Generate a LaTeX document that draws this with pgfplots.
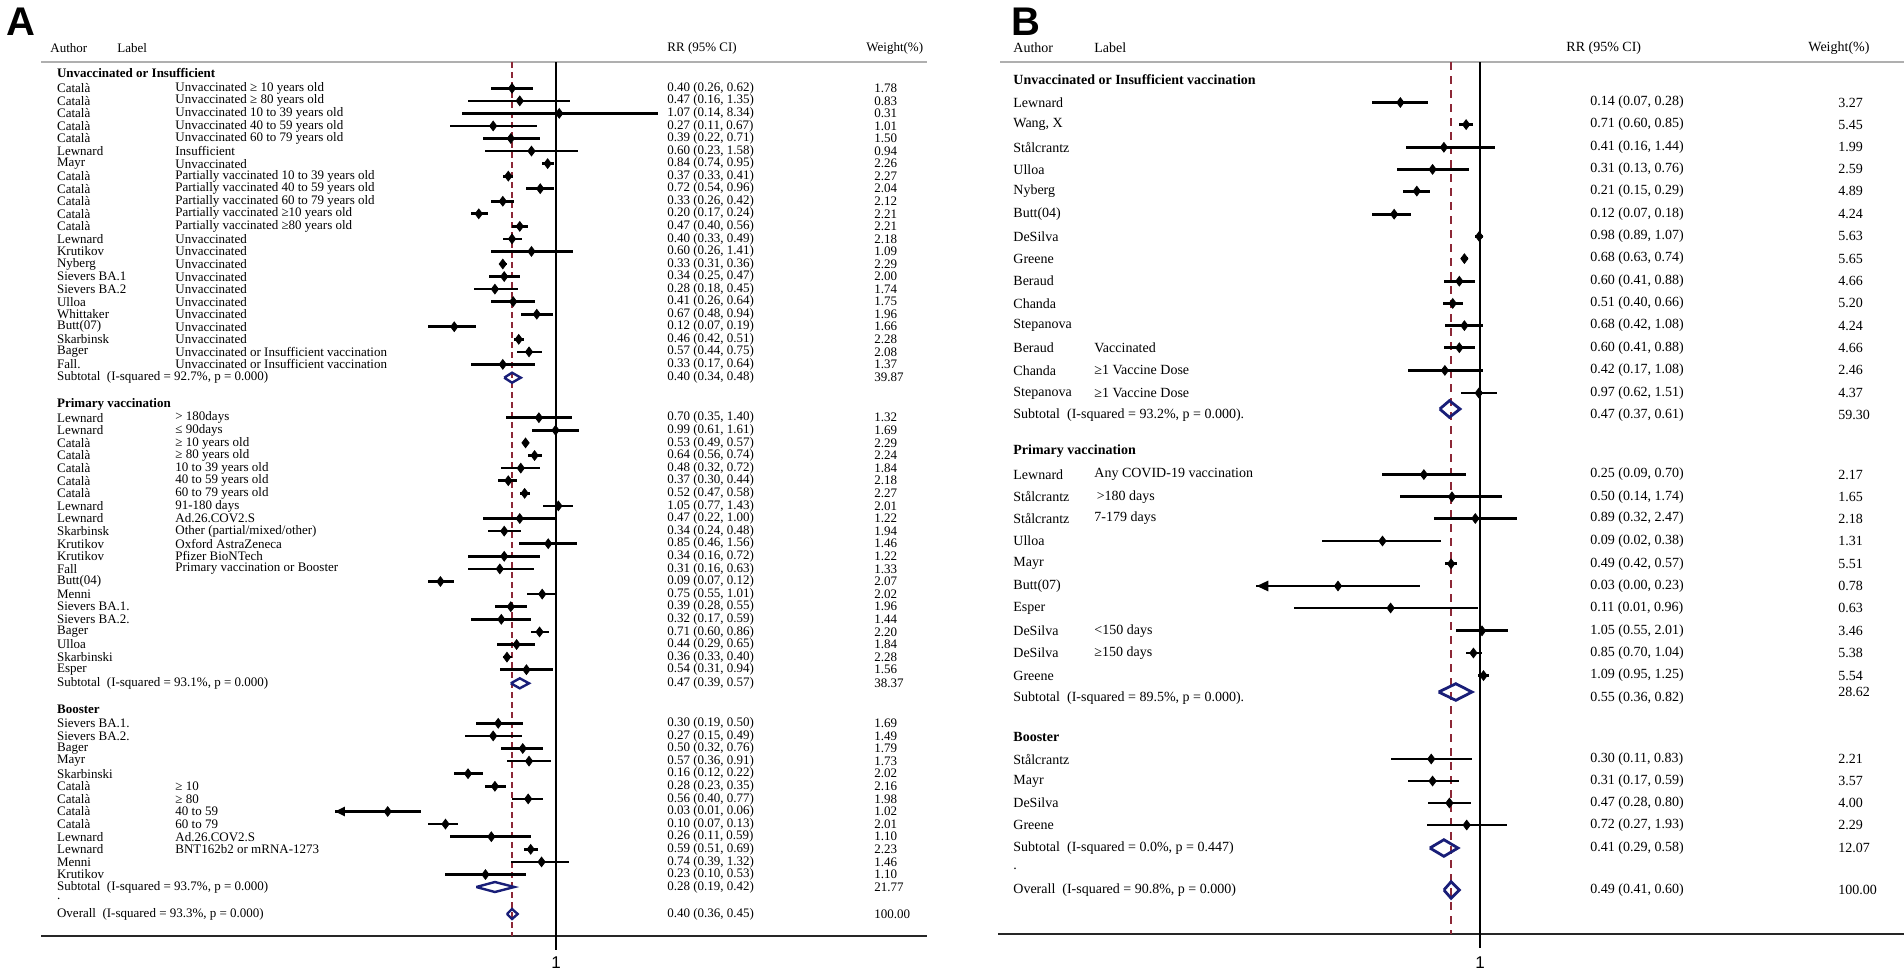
\documentclass[border=0pt]{standalone}
\usepackage{pgfplots}
\pgfplotsset{compat=1.18}
\usepackage{pgfplotstable}
\usepackage{fontspec}
\setmainfont{Liberation Serif}
\newfontfamily\sansf{Liberation Sans}
\usetikzlibrary{arrows.meta}
\definecolor{navyd}{RGB}{25,30,120}
\definecolor{maroond}{RGB}{140,40,55}
\definecolor{rulegray}{RGB}{175,175,175}
\newcommand\fa{\fontsize{6.5}{7.5}\selectfont}
\newcommand\fna{\fontsize{6.5}{7.5}\selectfont}
\newcommand\fb{\fontsize{7}{8}\selectfont}
\tikzset{tA/.style={anchor=west,inner sep=0pt,font=\fa},
 tAn/.style={anchor=west,inner sep=0pt,font=\fna},
 tB/.style={anchor=west,inner sep=0pt,font=\fb}}
\newcommand\rA[5]{\node[tA] at (axis cs:56.7,#1){#2};\node[tA] at (axis cs:175,#1){#3};\node[tAn] at (axis cs:667,#1){#4};\node[tAn] at (axis cs:874,#1){#5};}
\newcommand\rB[5]{\node[tB] at (axis cs:1013,#1){#2};\node[tB] at (axis cs:1094,#1){#3};\node[tB] at (axis cs:1590,#1){#4};\node[tB] at (axis cs:1838,#1){#5};}

\pgfplotstableread{
y rr lo hi
88.30 0.40 0.26 0.62
100.85 0.47 0.16 1.35
113.40 1.07 0.14 8.34
125.95 0.27 0.11 0.67
138.50 0.39 0.22 0.71
151.05 0.60 0.23 1.58
163.60 0.84 0.74 0.95
176.15 0.37 0.33 0.41
188.70 0.72 0.54 0.96
201.25 0.33 0.26 0.42
213.80 0.20 0.17 0.24
226.35 0.47 0.40 0.56
238.90 0.40 0.33 0.49
251.45 0.60 0.26 1.41
264.00 0.33 0.31 0.36
276.55 0.34 0.25 0.47
289.10 0.28 0.18 0.45
301.65 0.41 0.26 0.64
314.20 0.67 0.48 0.94
326.75 0.12 0.07 0.19
339.30 0.46 0.42 0.51
351.85 0.57 0.44 0.75
364.40 0.33 0.17 0.64
417.7 0.70 0.35 1.40
430.3 0.99 0.61 1.61
442.9 0.53 0.49 0.57
455.5 0.64 0.56 0.74
468.1 0.48 0.32 0.72
480.7 0.37 0.30 0.44
493.3 0.52 0.47 0.58
505.9 1.05 0.77 1.43
518.5 0.47 0.22 1.00
531.1 0.34 0.24 0.48
543.7 0.85 0.46 1.56
556.3 0.34 0.16 0.72
568.9 0.31 0.16 0.63
581.5 0.09 0.07 0.12
594.1 0.75 0.55 1.01
606.7 0.39 0.28 0.55
619.3 0.32 0.17 0.59
631.9 0.71 0.60 0.86
644.5 0.44 0.29 0.65
657.1 0.36 0.33 0.40
669.7 0.54 0.31 0.94
723.3 0.30 0.19 0.50
735.9 0.27 0.15 0.49
748.5 0.50 0.32 0.76
761.1 0.57 0.36 0.91
773.7 0.16 0.12 0.22
786.3 0.28 0.23 0.35
798.9 0.56 0.40 0.77
811.5 0.03 0.01 0.06
824.1 0.10 0.07 0.13
836.7 0.26 0.11 0.59
849.3 0.59 0.51 0.69
861.9 0.74 0.39 1.32
874.5 0.23 0.10 0.53
}\tabA

\pgfplotstableread{
y rr lo hi
102.5 0.14 0.07 0.28
124.6 0.71 0.60 0.85
147.3 0.41 0.16 1.44
169.4 0.31 0.13 0.76
191.1 0.21 0.15 0.29
214.2 0.12 0.07 0.18
236.4 0.98 0.89 1.07
258.6 0.68 0.63 0.74
281.2 0.60 0.41 0.88
303.4 0.51 0.40 0.66
325.6 0.68 0.42 1.08
347.7 0.60 0.41 0.88
370.4 0.42 0.17 1.08
393.0 0.97 0.62 1.51
474.6 0.25 0.09 0.70
496.8 0.50 0.14 1.74
518.5 0.89 0.32 2.47
541.0 0.09 0.02 0.38
563.8 0.49 0.42 0.57
586.0 0.03 0.004 0.23
608.0 0.11 0.01 0.96
630.8 1.05 0.55 2.01
653.0 0.85 0.70 1.04
675.6 1.09 0.95 1.25
759.0 0.30 0.11 0.83
781.0 0.31 0.17 0.59
803.0 0.47 0.28 0.80
825.0 0.72 0.27 1.93
}\tabB

\begin{document}
\begin{tikzpicture}
\path[use as bounding box] (0,0) rectangle (952pt,487.5pt);
% ---------- canvas with texts and rules
\begin{axis}[at={(0pt,0pt)},anchor=south west,width=952pt,height=487.5pt,scale only axis,
 xmin=0,xmax=1904,ymin=0,ymax=975,y dir=reverse,hide axis,clip=false]
\node[font=\sansf\bfseries\fontsize{20}{20}\selectfont] at (axis cs:21,22) {A};
\node[font=\sansf\bfseries\fontsize{20}{20}\selectfont] at (axis cs:1026,22) {B};
% rules
\draw[rulegray,line width=1.2pt] (axis cs:41,62) -- (axis cs:927,62);
\draw[rulegray,line width=1.2pt] (axis cs:1000,62) -- (axis cs:1904,62);
\draw[black!85,line width=1.2pt] (axis cs:41,935.7) -- (axis cs:927,935.7);
\draw[black!85,line width=1.2pt] (axis cs:998,934) -- (axis cs:1904,934);
\draw[black,line width=0.8pt] (axis cs:556,935.7) -- (axis cs:556,950);
\draw[black,line width=0.8pt] (axis cs:1480,934) -- (axis cs:1480,948);
\node[font=\sansf\fontsize{8.5}{9}\selectfont] at (axis cs:556,963) {1};
\node[font=\sansf\fontsize{8.5}{9}\selectfont] at (axis cs:1480,963) {1};
% headers A
\node[tA] at (axis cs:50,48) {Author};
\node[tA] at (axis cs:117,48) {Label};
\node[tAn] at (axis cs:667,48) {RR (95\% CI)};
\node[tAn] at (axis cs:866,48) {Weight(\%)};
\node[tA,font=\fa\bfseries] at (axis cs:56.7,73) {Unvaccinated or Insufficient};
\rA{88.30}{Català}{Unvaccinated ≥ 10 years old}{0.40 (0.26, 0.62)}{1.78}
\rA{100.85}{Català}{Unvaccinated ≥ 80 years old}{0.47 (0.16, 1.35)}{0.83}
\rA{113.40}{Català}{Unvaccinated 10 to 39 years old}{1.07 (0.14, 8.34)}{0.31}
\rA{125.95}{Català}{Unvaccinated 40 to 59 years old}{0.27 (0.11, 0.67)}{1.01}
\rA{138.50}{Català}{Unvaccinated 60 to 79 years old}{0.39 (0.22, 0.71)}{1.50}
\rA{151.05}{Lewnard}{Insufficient}{0.60 (0.23, 1.58)}{0.94}
\rA{163.60}{Mayr}{Unvaccinated}{0.84 (0.74, 0.95)}{2.26}
\rA{176.15}{Català}{Partially vaccinated 10 to 39 years old}{0.37 (0.33, 0.41)}{2.27}
\rA{188.70}{Català}{Partially vaccinated 40 to 59 years old}{0.72 (0.54, 0.96)}{2.04}
\rA{201.25}{Català}{Partially vaccinated 60 to 79 years old}{0.33 (0.26, 0.42)}{2.12}
\rA{213.80}{Català}{Partially vaccinated ≥10 years old}{0.20 (0.17, 0.24)}{2.21}
\rA{226.35}{Català}{Partially vaccinated ≥80 years old}{0.47 (0.40, 0.56)}{2.21}
\rA{238.90}{Lewnard}{Unvaccinated}{0.40 (0.33, 0.49)}{2.18}
\rA{251.45}{Krutikov}{Unvaccinated}{0.60 (0.26, 1.41)}{1.09}
\rA{264.00}{Nyberg}{Unvaccinated}{0.33 (0.31, 0.36)}{2.29}
\rA{276.55}{Sievers BA.1}{Unvaccinated}{0.34 (0.25, 0.47)}{2.00}
\rA{289.10}{Sievers BA.2}{Unvaccinated}{0.28 (0.18, 0.45)}{1.74}
\rA{301.65}{Ulloa}{Unvaccinated}{0.41 (0.26, 0.64)}{1.75}
\rA{314.20}{Whittaker}{Unvaccinated}{0.67 (0.48, 0.94)}{1.96}
\rA{326.75}{Butt(07)}{Unvaccinated}{0.12 (0.07, 0.19)}{1.66}
\rA{339.30}{Skarbinsk}{Unvaccinated}{0.46 (0.42, 0.51)}{2.28}
\rA{351.85}{Bager}{Unvaccinated or Insufficient vaccination}{0.57 (0.44, 0.75)}{2.08}
\rA{364.40}{Fall.}{Unvaccinated or Insufficient vaccination}{0.33 (0.17, 0.64)}{1.37}
\rA{377.7}{Subtotal\ \ (I-squared = 92.7\%, p = 0.000)}{}{0.40 (0.34, 0.48)}{39.87}
\node[tA,font=\fa\bfseries] at (axis cs:56.7,404.5) {Primary vaccination};
\rA{417.7}{Lewnard}{> 180days}{0.70 (0.35, 1.40)}{1.32}
\rA{430.3}{Lewnard}{≤ 90days}{0.99 (0.61, 1.61)}{1.69}
\rA{442.9}{Català}{≥ 10 years old}{0.53 (0.49, 0.57)}{2.29}
\rA{455.5}{Català}{≥ 80 years old}{0.64 (0.56, 0.74)}{2.24}
\rA{468.1}{Català}{10 to 39 years old}{0.48 (0.32, 0.72)}{1.84}
\rA{480.7}{Català}{40 to 59 years old}{0.37 (0.30, 0.44)}{2.18}
\rA{493.3}{Català}{60 to 79 years old}{0.52 (0.47, 0.58)}{2.27}
\rA{505.9}{Lewnard}{91-180 days}{1.05 (0.77, 1.43)}{2.01}
\rA{518.5}{Lewnard}{Ad.26.COV2.S}{0.47 (0.22, 1.00)}{1.22}
\rA{531.1}{Skarbinsk}{Other (partial/mixed/other)}{0.34 (0.24, 0.48)}{1.94}
\rA{543.7}{Krutikov}{Oxford AstraZeneca}{0.85 (0.46, 1.56)}{1.46}
\rA{556.3}{Krutikov}{Pfizer BioNTech}{0.34 (0.16, 0.72)}{1.22}
\rA{568.9}{Fall}{Primary vaccination or Booster}{0.31 (0.16, 0.63)}{1.33}
\rA{581.5}{Butt(04)}{}{0.09 (0.07, 0.12)}{2.07}
\rA{594.1}{Menni}{}{0.75 (0.55, 1.01)}{2.02}
\rA{606.7}{Sievers BA.1.}{}{0.39 (0.28, 0.55)}{1.96}
\rA{619.3}{Sievers BA.2.}{}{0.32 (0.17, 0.59)}{1.44}
\rA{631.9}{Bager}{}{0.71 (0.60, 0.86)}{2.20}
\rA{644.5}{Ulloa}{}{0.44 (0.29, 0.65)}{1.84}
\rA{657.1}{Skarbinski}{}{0.36 (0.33, 0.40)}{2.28}
\rA{669.7}{Esper}{}{0.54 (0.31, 0.94)}{1.56}
\rA{683.3}{Subtotal\ \ (I-squared = 93.1\%, p = 0.000)}{}{0.47 (0.39, 0.57)}{38.37}
\node[tA,font=\fa\bfseries] at (axis cs:56.7,709) {Booster};
\rA{723.3}{Sievers BA.1.}{}{0.30 (0.19, 0.50)}{1.69}
\rA{735.9}{Sievers BA.2.}{}{0.27 (0.15, 0.49)}{1.49}
\rA{748.5}{Bager}{}{0.50 (0.32, 0.76)}{1.79}
\rA{761.1}{Mayr}{}{0.57 (0.36, 0.91)}{1.73}
\rA{773.7}{Skarbinski}{}{0.16 (0.12, 0.22)}{2.02}
\rA{786.3}{Català}{≥ 10}{0.28 (0.23, 0.35)}{2.16}
\rA{798.9}{Català}{≥ 80}{0.56 (0.40, 0.77)}{1.98}
\rA{811.5}{Català}{40 to 59}{0.03 (0.01, 0.06)}{1.02}
\rA{824.1}{Català}{60 to 79}{0.10 (0.07, 0.13)}{2.01}
\rA{836.7}{Lewnard}{Ad.26.COV2.S}{0.26 (0.11, 0.59)}{1.10}
\rA{849.3}{Lewnard}{BNT162b2 or mRNA-1273}{0.59 (0.51, 0.69)}{2.23}
\rA{861.9}{Menni}{}{0.74 (0.39, 1.32)}{1.46}
\rA{874.5}{Krutikov}{}{0.23 (0.10, 0.53)}{1.10}
\rA{887}{Subtotal\ \ (I-squared = 93.7\%, p = 0.000)}{}{0.28 (0.19, 0.42)}{21.77}
\node[tA] at (axis cs:56.7,899) {.};
\rA{914}{Overall\ \ (I-squared = 93.3\%, p = 0.000)}{}{0.40 (0.36, 0.45)}{100.00}
% headers B
\node[tB] at (axis cs:1013,48) {Author};
\node[tB] at (axis cs:1094,48) {Label};
\node[tB] at (axis cs:1566,48) {RR (95\% CI)};
\node[tB] at (axis cs:1808,48) {Weight(\%)};
\node[tB,font=\fb\bfseries] at (axis cs:1013,80) {Unvaccinated or Insufficient vaccination};
\rB{102.5}{Lewnard}{}{0.14 (0.07, 0.28)}{3.27}
\rB{124.6}{Wang, X}{}{0.71 (0.60, 0.85)}{5.45}
\rB{147.3}{Stålcrantz}{}{0.41 (0.16, 1.44)}{1.99}
\rB{169.4}{Ulloa}{}{0.31 (0.13, 0.76)}{2.59}
\rB{191.1}{Nyberg}{}{0.21 (0.15, 0.29)}{4.89}
\rB{214.2}{Butt(04)}{}{0.12 (0.07, 0.18)}{4.24}
\rB{236.4}{DeSilva}{}{0.98 (0.89, 1.07)}{5.63}
\rB{258.6}{Greene}{}{0.68 (0.63, 0.74)}{5.65}
\rB{281.2}{Beraud}{}{0.60 (0.41, 0.88)}{4.66}
\rB{303.4}{Chanda}{}{0.51 (0.40, 0.66)}{5.20}
\rB{325.6}{Stepanova}{}{0.68 (0.42, 1.08)}{4.24}
\rB{347.7}{Beraud}{Vaccinated}{0.60 (0.41, 0.88)}{4.66}
\rB{370.4}{Chanda}{≥1 Vaccine Dose}{0.42 (0.17, 1.08)}{2.46}
\rB{393.0}{Stepanova}{≥1 Vaccine Dose}{0.97 (0.62, 1.51)}{4.37}
\rB{414.7}{Subtotal\ \ (I-squared = 93.2\%, p = 0.000).}{}{0.47 (0.37, 0.61)}{59.30}
\node[tB,font=\fb\bfseries] at (axis cs:1013,451.5) {Primary vaccination};
\rB{474.6}{Lewnard}{Any COVID-19 vaccination}{0.25 (0.09, 0.70)}{2.17}
\rB{496.8}{Stålcrantz}{\,>180 days}{0.50 (0.14, 1.74)}{1.65}
\rB{518.5}{Stålcrantz}{7-179 days}{0.89 (0.32, 2.47)}{2.18}
\rB{541.0}{Ulloa}{}{0.09 (0.02, 0.38)}{1.31}
\rB{563.8}{Mayr}{}{0.49 (0.42, 0.57)}{5.51}
\rB{586.0}{Butt(07)}{}{0.03 (0.00, 0.23)}{0.78}
\rB{608.0}{Esper}{}{0.11 (0.01, 0.96)}{0.63}
\rB{630.8}{DeSilva}{<150 days}{1.05 (0.55, 2.01)}{3.46}
\rB{653.0}{DeSilva}{≥150 days}{0.85 (0.70, 1.04)}{5.38}
\rB{675.6}{Greene}{}{1.09 (0.95, 1.25)}{5.54}
\rB{697.7}{Subtotal\ \ (I-squared = 89.5\%, p = 0.000).}{}{0.55 (0.36, 0.82)}{}
\node[tB] at (axis cs:1838,692) {28.62};
\node[tB,font=\fb\bfseries] at (axis cs:1013,737) {Booster};
\rB{759.0}{Stålcrantz}{}{0.30 (0.11, 0.83)}{2.21}
\rB{781.0}{Mayr}{}{0.31 (0.17, 0.59)}{3.57}
\rB{803.0}{DeSilva}{}{0.47 (0.28, 0.80)}{4.00}
\rB{825.0}{Greene}{}{0.72 (0.27, 1.93)}{2.29}
\rB{848.0}{Subtotal\ \ (I-squared = 0.0\%, p = 0.447)}{}{0.41 (0.29, 0.58)}{12.07}
\node[tB] at (axis cs:1013,869) {.};
\rB{890.0}{Overall\ \ (I-squared = 90.8\%, p = 0.000)}{}{0.49 (0.41, 0.60)}{100.00}
\end{axis}
% ---------- forest A
\begin{axis}[at={(167.48pt,0pt)},anchor=south west,width=165.79pt,height=487.5pt,scale only axis,
 xmode=log,xmin=0.01,xmax=10,ymin=0,ymax=975,y dir=reverse,hide axis,clip=false]
\addplot[maroond,line width=1pt,dash pattern=on 3pt off 2pt] coordinates {(0.40,62) (0.40,935.7)};
\addplot[black,line width=1pt] coordinates {(1,62) (1,935.7)};
\addplot[only marks,mark=diamond*,mark size=2.4pt,black,
 error bars/.cd,x dir=both,x explicit,error mark=none,error bar style={line width=1.35pt,black,solid}]
 table[x=rr,y=y,x error plus expr={\thisrow{hi}-\thisrow{rr}},x error minus expr={\thisrow{rr}-\thisrow{lo}}]{\tabA};
\addplot[black,line width=1.35pt,-{Triangle[length=5pt,width=4.5pt]}] coordinates {(0.02,811.5) (0.01,811.5)};
\addplot[navyd,line width=1.2pt,line join=miter] coordinates {(0.34,377.7) (0.40,372.7) (0.48,377.7) (0.40,382.7) (0.34,377.7)};
\addplot[navyd,line width=1.2pt,line join=miter] coordinates {(0.39,683.3) (0.47,678.3) (0.57,683.3) (0.47,688.3) (0.39,683.3)};
\addplot[navyd,line width=1.2pt,line join=miter] coordinates {(0.19,887) (0.28,882) (0.42,887) (0.28,892) (0.19,887)};
\addplot[navyd,line width=1.2pt,line join=miter] coordinates {(0.36,914) (0.40,909) (0.45,914) (0.40,919) (0.36,914)};
\end{axis}
% ---------- forest B
\begin{axis}[at={(628.19pt,0pt)},anchor=south west,width=158.44pt,height=487.5pt,scale only axis,
 xmode=log,xmin=0.004,xmax=10,ymin=0,ymax=975,y dir=reverse,hide axis,clip=false]
\addplot[maroond,line width=0.9pt,dash pattern=on 4pt off 3pt] coordinates {(0.49,62) (0.49,934)};
\addplot[black,line width=0.8pt] coordinates {(1,62) (1,934)};
\addplot[only marks,mark=diamond*,mark size=2.4pt,black,
 error bars/.cd,x dir=both,x explicit,error mark=none,error bar style={line width=1.4pt,black,solid}]
 table[x=rr,y=y,x error plus expr={\thisrow{hi}-\thisrow{rr}},x error minus expr={\thisrow{rr}-\thisrow{lo}}]{\tabB};
\addplot[black,line width=1.4pt,-{Triangle[length=6pt,width=5pt]}] coordinates {(0.008,586) (0.004,586)};
\addplot[navyd,line width=1.4pt,line join=miter] coordinates {(0.37,409) (0.47,400.7) (0.61,409) (0.47,417.3) (0.37,409)};
\addplot[navyd,line width=1.4pt,line join=miter] coordinates {(0.36,692) (0.55,683.7) (0.82,692) (0.55,700.3) (0.36,692)};
\addplot[navyd,line width=1.4pt,line join=miter] coordinates {(0.29,848) (0.41,839.7) (0.58,848) (0.41,856.3) (0.29,848)};
\addplot[navyd,line width=1.4pt,line join=miter] coordinates {(0.41,890) (0.49,881.7) (0.60,890) (0.49,898.3) (0.41,890)};
\end{axis}
\end{tikzpicture}
\end{document}
